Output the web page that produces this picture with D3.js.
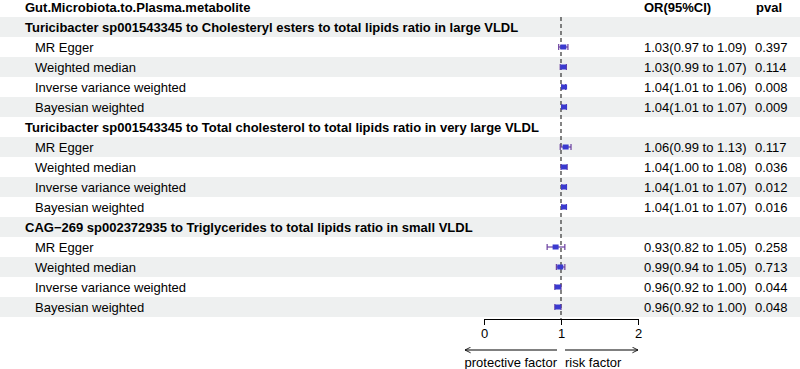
<!DOCTYPE html>
<html>
<head>
<meta charset="utf-8">
<script src="https://cdn.jsdelivr.net/npm/d3@7"></script>
<style>
  body { margin: 0; background: #fff; }
  svg text { font-family: "Liberation Sans", Arial, Helvetica, sans-serif; font-size: 13px; fill: #000; }
</style>
</head>
<body>
<div id="chart"></div>
<script>
const groups = [
  "Turicibacter sp001543345 to Cholesteryl esters to total lipids ratio in large VLDL",
  "Turicibacter sp001543345 to Total cholesterol to total lipids ratio in very large VLDL",
  "CAG\u2212269 sp002372935 to Triglycerides to total lipids ratio in small VLDL"
]
const methods = ["MR Egger", "Weighted median", "Inverse variance weighted", "Bayesian weighted"]
const orValues = [
  [1.03, 1.03, 1.04, 1.04],
  [1.06, 1.04, 1.04, 1.04],
  [0.93, 0.99, 0.96, 0.96]
]
const lowerCI = [
  [0.97, 0.99, 1.01, 1.01],
  [0.99, 1.00, 1.01, 1.01],
  [0.82, 0.94, 0.92, 0.92]
]
const upperCI = [
  [1.09, 1.07, 1.06, 1.07],
  [1.13, 1.08, 1.07, 1.07],
  [1.05, 1.05, 1.00, 1.00]
]
const pvals = [
  ["0.397", "0.114", "0.008", "0.009"],
  ["0.117", "0.036", "0.012", "0.016"],
  ["0.258", "0.713", "0.044", "0.048"]
]
const xTicks = [0, 1, 2]

const width = 800, height = 369
const rowH = 20, tableTop = 17

// flatten into rows: group header followed by its methods
const rows = []
groups.forEach((g, gi) => {
  rows.push({ type: "group", label: g })
  methods.forEach((m, mi) => {
    rows.push({
      type: "item", label: m,
      or: orValues[gi][mi], lo: lowerCI[gi][mi], hi: upperCI[gi][mi], p: pvals[gi][mi]
    })
  })
})

const y = d3.scaleBand().domain(d3.range(rows.length)).range([tableTop, tableTop + rows.length * rowH])
const x = d3.scaleLinear().domain([0, 2]).range([484, 638])
const fmt = d3.format(".2f")

const svg = d3.select("#chart").append("svg")
  .attr("width", width).attr("height", height)
  .attr("viewBox", [0, 0, width, height])

// stripes
svg.append("g").selectAll("rect")
  .data(rows.map((d, i) => i).filter(i => i % 2 === 0))
  .join("rect")
  .attr("x", 0).attr("width", width)
  .attr("y", i => y(i)).attr("height", y.bandwidth())
  .attr("fill", "#eef0f0")

// headers
const hdr = svg.append("g")
hdr.append("text").attr("x", 25).attr("y", 7).attr("dy", "0.35em").attr("font-weight", "bold")
  .text("Gut.Microbiota.to.Plasma.metabolite")
hdr.append("text").attr("x", 644).attr("y", 7).attr("dy", "0.35em").attr("font-weight", "bold")
  .text("OR(95%CI)")
hdr.append("text").attr("x", 756).attr("y", 7).attr("dy", "0.35em").attr("font-weight", "bold")
  .text("pval")

// row labels
svg.append("g").selectAll("text")
  .data(rows)
  .join("text")
  .attr("x", d => d.type === "group" ? 25 : 35)
  .attr("y", (d, i) => y(i) + y.bandwidth() / 2)
  .attr("dy", "0.35em")
  .attr("font-weight", d => d.type === "group" ? "bold" : null)
  .text(d => d.label)

const items = rows.map((d, i) => ({ ...d, i })).filter(d => d.type === "item")

// OR text + pval
svg.append("g").selectAll("text")
  .data(items)
  .join("text")
  .attr("x", 644)
  .attr("y", d => y(d.i) + y.bandwidth() / 2)
  .attr("dy", "0.35em")
  .text(d => `${fmt(d.or)}(${fmt(d.lo)} to ${fmt(d.hi)})`)
svg.append("g").selectAll("text")
  .data(items)
  .join("text")
  .attr("x", 755)
  .attr("y", d => y(d.i) + y.bandwidth() / 2)
  .attr("dy", "0.35em")
  .text(d => d.p)

// reference line
const axisY = tableTop + rows.length * rowH + 2
svg.append("line")
  .attr("x1", x(1)).attr("x2", x(1))
  .attr("y1", tableTop).attr("y2", axisY)
  .attr("stroke", "#333").attr("stroke-width", 1.2)
  .attr("stroke-dasharray", "4,3")

// CI lines
const ci = svg.append("g").attr("stroke", "#6a3fa0").attr("stroke-width", 1.2)
items.forEach(d => {
  const cy = y(d.i) + y.bandwidth() / 2
  ci.append("line").attr("x1", x(d.lo)).attr("x2", x(d.hi)).attr("y1", cy).attr("y2", cy)
  ci.append("line").attr("x1", x(d.lo)).attr("x2", x(d.lo)).attr("y1", cy - 3).attr("y2", cy + 3)
  ci.append("line").attr("x1", x(d.hi)).attr("x2", x(d.hi)).attr("y1", cy - 3).attr("y2", cy + 3)
})
svg.append("g").selectAll("rect")
  .data(items)
  .join("rect")
  .attr("x", d => x(d.or) - 3)
  .attr("y", d => y(d.i) + y.bandwidth() / 2 - 2.5)
  .attr("width", 6).attr("height", 5)
  .attr("fill", "#3a3acf")

// axis
const axis = d3.axisBottom(x).tickValues(xTicks).tickFormat(d3.format("d"))
  .tickSize(6).tickSizeOuter(0).tickPadding(4)
const ag = svg.append("g").attr("transform", `translate(0,${axisY})`).call(axis)
ag.select(".domain").attr("stroke", "#000")
ag.selectAll(".tick line").attr("stroke", "#000")
ag.selectAll(".tick text").attr("font-size", 13).attr("font-family", null)

// arrows
const defs = svg.append("defs")
defs.append("marker").attr("id", "arr")
  .attr("viewBox", "0 0 10 10").attr("refX", 9).attr("refY", 5)
  .attr("markerWidth", 7).attr("markerHeight", 7).attr("orient", "auto-start-reverse")
  .attr("markerUnits", "userSpaceOnUse")
  .append("path").attr("d", "M1,1L9,5L1,9").attr("fill", "none").attr("stroke", "#000").attr("stroke-width", 1.2)
const arrY = axisY + 31
svg.append("line").attr("x1", x(1) - 4).attr("x2", x(0) - 19).attr("y1", arrY).attr("y2", arrY)
  .attr("stroke", "#000").attr("marker-end", "url(#arr)")
svg.append("line").attr("x1", x(1) + 4).attr("x2", x(2)).attr("y1", arrY).attr("y2", arrY)
  .attr("stroke", "#000").attr("marker-end", "url(#arr)")
svg.append("text").attr("x", x(1) - 4).attr("y", arrY + 12).attr("dy", "0.35em")
  .attr("text-anchor", "end").text("protective factor")
svg.append("text").attr("x", x(1) + 4).attr("y", arrY + 12).attr("dy", "0.35em")
  .text("risk factor")
</script>
</body>
</html>
